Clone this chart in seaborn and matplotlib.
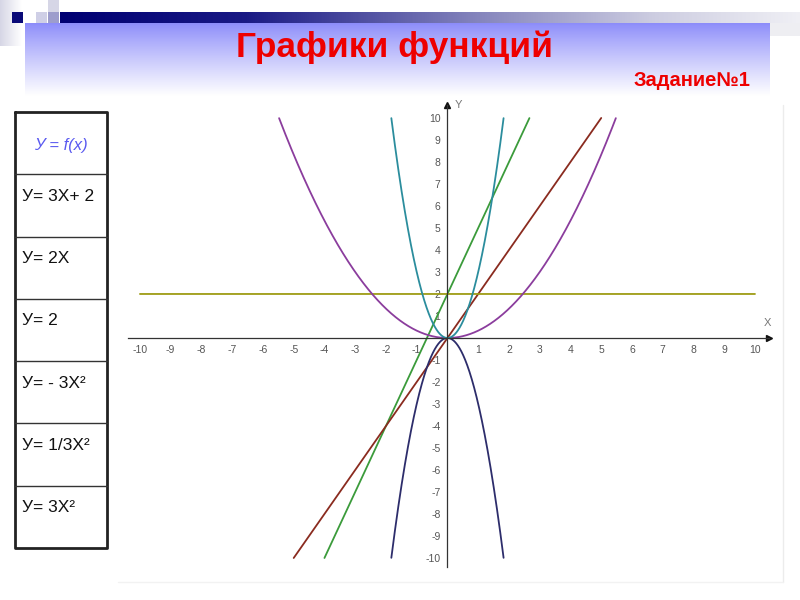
"""Slide 'Графики функций': six function graphs with a formula table."""

import numpy as np
import pandas as pd
import matplotlib.pyplot as plt
import seaborn as sns

# Functions y = a*x^2 + b*x + c, in the order listed in the table
func_labels = ["У= 3Х+ 2", "У= 2Х", "У= 2", "У= - 3Х²", "У= 1/3Х²", "У= 3Х²"]
coef_a = [0, 0, 0, -3, 1 / 3, 3]
coef_b = [3, 2, 0, 0, 0, 0]
coef_c = [2, 0, 2, 0, 0, 0]
curve_colors = ["#3b9b3b", "#8a2b1f", "#9e9c14", "#2d2d6b", "#8b3d9d", "#2b8d9d"]
axis_ticks = [t for t in range(-10, 11) if t != 0]
table_header = "У = f(x)"

sns.set_style("white")
plt.rcParams["font.family"] = ["Liberation Sans", "DejaVu Sans"]


def build_curves() -> pd.DataFrame:
    frames = []
    xs = np.linspace(-10, 10, 8001)
    for name, a, b, c in zip(func_labels, coef_a, coef_b, coef_c):
        ys = a * xs**2 + b * xs + c
        keep = np.abs(ys) <= 10
        frames.append(pd.DataFrame({"x": xs[keep], "y": ys[keep], "func": name}))
    return pd.concat(frames, ignore_index=True)


def draw_background(fig):
    bg = fig.add_axes([0, 0, 1, 1], zorder=-1)
    bg.set_xlim(0, 800)
    bg.set_ylim(600, 0)
    bg.axis("off")

    # left faded strip
    strip = np.linspace(0, 1, 50)[None, :, None]
    left_col = np.array([0.84, 0.84, 0.9])
    img = left_col + (1 - left_col) * strip
    img = np.repeat(img, 2, axis=0)
    bg.imshow(img, extent=(0, 22, 46, 0), aspect="auto")

    # dark bar fading to the right
    stops = [0, 0.25, 0.55, 0.8, 1]
    cols = np.array([[0.0, 0.0, 0.45], [0.1, 0.1, 0.52], [0.5, 0.5, 0.73],
                     [0.8, 0.8, 0.88], [0.94, 0.94, 0.96]])
    t = np.linspace(0, 1, 300)
    bar = np.stack([np.interp(t, stops, cols[:, k]) for k in range(3)], axis=-1)[None]
    bar = np.repeat(bar, 2, axis=0)
    bg.imshow(bar, extent=(60, 800, 23, 12), aspect="auto")
    bg.fill_between([770, 800], 23, 36, color="#eeeef2", lw=0)

    # small squares
    bg.fill_between([12, 23], 12, 23, color="#0a0a78", lw=0)
    bg.fill_between([36, 47], 12, 23, color="#cfcfe6", lw=0)
    bg.fill_between([48, 59], 12, 23, color="#9d9dcc", lw=0)
    bg.fill_between([48, 59], 0, 12, color="#d6d6e6", lw=0)

    # title band: lavender blue fading to white
    v = np.linspace(0, 1, 100)[:, None, None]
    top_col = np.array([0.55, 0.55, 0.98])
    band = top_col + (1 - top_col) * v**0.9
    band = np.repeat(band, 2, axis=1)
    bg.imshow(band, extent=(25, 770, 96, 23), aspect="auto")

    bg.text(395, 47, "Графики функций", ha="center", va="center",
            fontsize=25.5, fontweight="bold", color="#ee0000")
    bg.text(750, 80, "Задание№1", ha="right", va="center",
            fontsize=14.5, fontweight="bold", color="#ee0000")

    # faint frame of the graph picture
    bg.plot([783, 783], [105, 582], color="#ececec", lw=1)
    bg.plot([118, 783], [582, 582], color="#f2f2f2", lw=1)

    # formula table
    rows = np.linspace(112, 548, len(func_labels) + 2)
    bg.plot([15, 107, 107, 15, 15], [112, 112, 548, 548, 112], color="#222222", lw=2)
    for r in rows[1:-1]:
        bg.plot([15, 107], [r, r], color="#333333", lw=1)
    bg.text(61, (rows[0] + rows[1]) / 2 + 2, table_header, ha="center", va="center",
            fontsize=12, style="italic", color="#5a5af0")
    for name, top in zip(func_labels, rows[1:-1]):
        bg.text(22, top + 22, name, ha="left", va="center", fontsize=12.5, color="#111111")


def main() -> None:
    fig = plt.figure(figsize=(8, 6), dpi=100)
    draw_background(fig)

    ax = fig.add_axes([0.1557, 0.0517, 0.8111, 0.781], zorder=1)
    ax.patch.set_alpha(0)
    curves = build_curves()
    sns.lineplot(data=curves, x="x", y="y", hue="func",
                 palette=dict(zip(func_labels, curve_colors)),
                 estimator=None, sort=False, lw=1.3, legend=False, ax=ax)

    ax.set_xlim(-10.5, 10.6)
    ax.set_ylim(-10.5, 10.8)
    for side in ["top", "right"]:
        ax.spines[side].set_visible(False)
    ax.spines["left"].set_position(("data", 0))
    ax.spines["bottom"].set_position(("data", 0))
    ax.spines["bottom"].set_bounds(-10.4, 10.45)
    ax.spines["left"].set_bounds(-10.4, 10.6)
    for side in ["left", "bottom"]:
        ax.spines[side].set_color("#333333")
        ax.spines[side].set_linewidth(0.9)
    ax.plot(10.45, 0, ">", color="#111111", ms=5, clip_on=False)
    ax.plot(0, 10.6, "^", color="#111111", ms=5, clip_on=False)

    ax.set_xticks(axis_ticks)
    ax.set_yticks(axis_ticks)
    ax.set_xticklabels([str(t) for t in axis_ticks])
    ax.set_yticklabels([str(t) for t in axis_ticks])
    ax.tick_params(direction="inout", length=6, width=0.8, color="#333333",
                   labelsize=7.5, labelcolor="#555555", pad=2)
    ax.set_xlabel("")
    ax.set_ylabel("")
    ax.text(10.4, 0.55, "X", fontsize=8, color="#777777", ha="center")
    ax.text(0.25, 10.6, "Y", fontsize=8, color="#777777", va="center")

    fig.savefig("out.png", dpi=100)
    plt.close(fig)


if __name__ == "__main__":
    main()
